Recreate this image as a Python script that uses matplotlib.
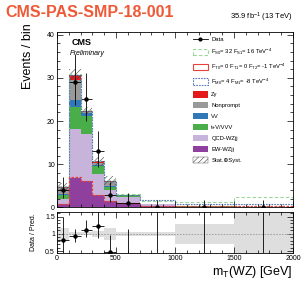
import numpy as np
import matplotlib
matplotlib.use('Agg')
import matplotlib.pyplot as plt
from matplotlib.patches import Patch
from matplotlib.lines import Line2D
from matplotlib.ticker import MultipleLocator

plt.rcParams['font.family'] = ['Liberation Sans', 'DejaVu Sans']
plt.rcParams['mathtext.default'] = 'regular'
plt.rcParams['hatch.linewidth'] = 0.4

# binning in mT(WZ)
edges = [0, 100, 200, 300, 400, 500, 700, 1000, 1500, 2000]

# stacked backgrounds (bottom to top)
ew_wzjj = [0.7, 6.9, 6.1, 2.8, 1.4, 1.0, 0.3, 0.1, 0.08]
qcd_wzjj = [1.3, 11.2, 10.8, 4.9, 2.6, 1.4, 0.4, 0.12, 0.07]
t_vvv = [0.8, 5.2, 4.3, 1.8, 0.8, 0.4, 0.1, 0.03, 0.02]
vv = [0.3, 1.6, 0.6, 0.3, 0.1, 0.05, 0.02, 0.01, 0.01]
nonprompt = [1.3, 4.5, 0.4, 0.4, 1.0, 0.05, 0.03, 0.02, 0.01]
zgamma = [0.4, 1.3, 0.1, 0.5, 0.3, 0.02, 0.0, 0.0, 0.0]
unc = [0.8, 1.4, 1.0, 1.0, 1.1, 0.2, 0.05, 0.08, 0.15]

# aQGC hypotheses
fs0 = [4.9, 30.8, 22.5, 10.8, 6.3, 3.1, 1.6, 1.2, 2.4]
ft0 = [0.75, 7.0, 6.2, 2.9, 1.5, 1.05, 0.45, 0.35, 0.45]
fm0 = [4.8, 30.7, 22.4, 10.7, 6.2, 3.0, 1.8, 0.7, 0.9]

# data with Poisson intervals
data = [4, 29, 25, 13, 3, 1, 0, 0, 0]
data_lo = [1.91, 5.33, 4.97, 3.6, 1.63, 0.83, 0.0, 0.0, 0.0]
data_hi = [3.16, 6.44, 6.06, 4.71, 2.92, 2.30, 1.84, 1.84, 1.84]

edges = np.array(edges, dtype=float)
centers = 0.5 * (edges[1:] + edges[:-1])
halfw = 0.5 * (edges[1:] - edges[:-1])

stack = [
    (ew_wzjj, '#8f3f9e', 'EW-WZjj'),
    (qcd_wzjj, '#c8b4da', 'QCD-WZjj'),
    (t_vvv, '#49ad4a', 't+V/VVV'),
    (vv, '#3078b8', 'VV'),
    (nonprompt, '#999999', 'Nonprompt'),
    (zgamma, '#e3191c', 'Z\u03b3'),
]

fig = plt.figure(figsize=(3.02, 2.81), dpi=100)
ax = fig.add_axes([0.1887, 0.2616, 0.7815, 0.6228])
rax = fig.add_axes([0.1887, 0.0996, 0.7815, 0.1459])

bottom = np.zeros(len(centers))
for vals, col, lab in stack:
    vals = np.array(vals)
    ax.stairs(bottom + vals, edges, baseline=bottom, fill=True, color=col, lw=0)
    bottom = bottom + vals
total = bottom
unc = np.array(unc)

ax.stairs(total + unc, edges, baseline=total - unc, fill=False, hatch='//////',
          color='#444444', lw=0)

ax.stairs(fs0, edges, color='#9ad79a', lw=0.8, ls=(0, (3, 2)))
ax.stairs(fm0, edges, color='#5878b8', lw=0.8, ls=(0, (1.5, 1)))
ax.stairs(ft0, edges, color='#e8413c', lw=0.9, ls=(0, (2, 1.2)))

ax.errorbar(centers, data, xerr=halfw, yerr=[data_lo, data_hi], fmt='o', color='black',
            ms=2.2, lw=0.6, elinewidth=0.6, capsize=0)

ax.set_xlim(0, 2000)
ax.set_ylim(0, 40.5)
ax.xaxis.set_major_locator(MultipleLocator(500))
ax.xaxis.set_minor_locator(MultipleLocator(100))
ax.yaxis.set_major_locator(MultipleLocator(10))
ax.yaxis.set_minor_locator(MultipleLocator(2))
ax.tick_params(labelbottom=False)

# ratio panel
ratio = np.array(data) / total
r_lo = np.array(data_lo) / total
r_hi = np.array(data_hi) / total
rel = unc / total
rax.stairs(1 + rel, edges, baseline=1 - rel, fill=True, color='#dedede', lw=0)
rax.axhline(1, color='#999999', lw=0.6, ls=(0, (2, 1.5)))
rax.errorbar(centers, ratio, xerr=halfw, yerr=[r_lo, r_hi], fmt='o', color='black',
             ms=2.2, lw=0.6, elinewidth=0.6, capsize=0)
rax.set_xlim(0, 2000)
rax.set_ylim(0.45, 1.63)
rax.xaxis.set_major_locator(MultipleLocator(500))
rax.xaxis.set_minor_locator(MultipleLocator(100))
rax.yaxis.set_minor_locator(MultipleLocator(0.1))
rax.set_yticks([0.5, 1, 1.5])
rax.set_yticklabels(['0.5', '1', '1.5'])

for a in (ax, rax):
    a.tick_params(which='both', direction='in', top=True, right=True, labelsize=5,
                  width=0.5, pad=1.5)
    a.tick_params(which='major', length=4)
    a.tick_params(which='minor', length=2)
    for s in a.spines.values():
        s.set_linewidth(0.6)

# legend
handles = [
    Line2D([], [], color='black', marker='o', ms=2, lw=0.6),
    Patch(facecolor='white', edgecolor='#9ad79a', ls=(0, (3, 2)), lw=0.8),
    Patch(facecolor='white', edgecolor='#e8413c', lw=0.8),
    Patch(facecolor='white', edgecolor='#5878b8', ls=(0, (1.5, 1)), lw=0.8),
    Patch(facecolor='#e3191c'),
    Patch(facecolor='#999999'),
    Patch(facecolor='#3078b8'),
    Patch(facecolor='#49ad4a'),
    Patch(facecolor='#c8b4da'),
    Patch(facecolor='#8f3f9e'),
    Patch(facecolor='white', edgecolor='#444444', hatch='//////', lw=0.3),
]
labels = [
    'Data',
    '$F_{S0}$= 32 $F_{S1}$= 16 TeV$^{-4}$',
    '$F_{T0}$= 0 $F_{T1}$= 0 $F_{T2}$= -1 TeV$^{-4}$',
    '$F_{M0}$= 4 $F_{M1}$= -8 TeV$^{-4}$',
    'Z\u03b3', 'Nonprompt', 'VV', 't+V/VVV', 'QCD-WZjj', 'EW-WZjj',
    'Stat.\u2295Syst.',
]
ax.legend(handles, labels, loc='upper left', bbox_to_anchor=(0.56, 1.0), frameon=False,
          fontsize=4.2, handlelength=2.6, handleheight=1.3, labelspacing=0.78,
          handletextpad=0.6, borderaxespad=0.2)

ax.text(0.06, 0.97, 'CMS', transform=ax.transAxes, fontsize=6.5, fontweight='bold',
        va='top', ha='left')
ax.text(0.055, 0.90, 'Preliminary', transform=ax.transAxes, fontsize=5,
        fontstyle='italic', va='top', ha='left')

fig.text(0.018, 0.955, 'CMS-PAS-SMP-18-001', color='#ee5a36', fontsize=11.5,
         fontweight='bold', va='center', ha='left')
fig.text(0.97, 0.94, '35.9 fb$^{-1}$ (13 TeV)', fontsize=5.5, va='center', ha='right')
fig.text(0.092, 0.918, 'Events / bin', fontsize=9, rotation=90, va='top', ha='center')
fig.text(0.11, 0.175, 'Data / Pred.', fontsize=5, rotation=90, va='center', ha='center')
fig.text(0.97, 0.032, 'm$_{T}$(WZ) [GeV]', fontsize=9, va='center', ha='right')

fig.savefig('out.png', dpi=100)
